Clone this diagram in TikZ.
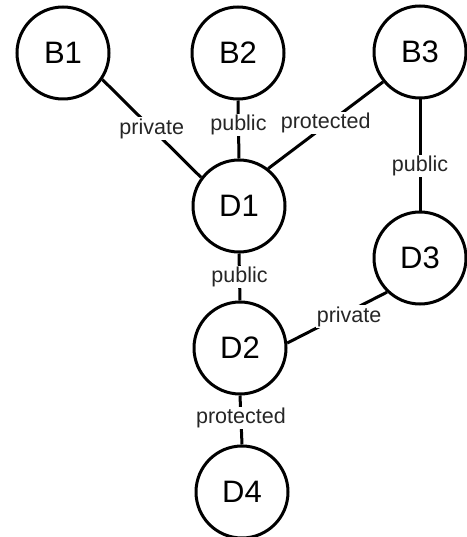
\documentclass[tikz,border=0pt]{standalone}
\usepackage{fontspec}
\setmainfont{Liberation Sans}
\begin{document}
\begin{tikzpicture}[x=1pt,y=-1pt,
  cls/.style={circle,draw=black,line width=3pt,fill=white,minimum size=92pt,inner sep=0pt,font=\fontsize{31}{31}\selectfont},
  conn/.style={line width=3pt},
  lbl/.style={fill=white,inner sep=1pt,text=black!85,font=\fontsize{21.5}{21.5}\selectfont}]
\useasboundingbox (0,0) rectangle (466,537);
\fill[white] (0,0) rectangle (466,537);
\node[cls] (B1) at (63,53) {B1};
\node[cls] (B2) at (238,53) {B2};
\node[cls] (B3) at (420,52) {B3};
\node[cls] (D1) at (239,206) {D1};
\node[cls] (D3) at (420,258) {D3};
\node[cls] (D2) at (240,348) {D2};
\node[cls] (D4) at (242,492) {D4};
\draw[conn] (B1.-34) -- node[lbl,pos=0.5] (l1) {private} (D1.143);
\draw[conn] (B2.south) -- node[lbl,pos=0.43] (l2) {public} (D1.north);
\draw[conn] (B3.219) -- node[lbl,pos=0.5,yshift=2pt] (l3) {protected} (D1.52);
\draw[conn] (B3.south) -- node[lbl,pos=0.6] (l4) {public} (D3.north);
\draw[conn] (D1.south) -- node[lbl,pos=0.5] (l5) {public} (D2.north);
\draw[conn] (D2.6) -- node[lbl,pos=0.62,yshift=-5pt] (l6) {private} (D3.226);
\draw[conn] (D2.south) -- node[lbl,pos=0.45] (l7) {protected} (D4.north);
\end{tikzpicture}
\end{document}
